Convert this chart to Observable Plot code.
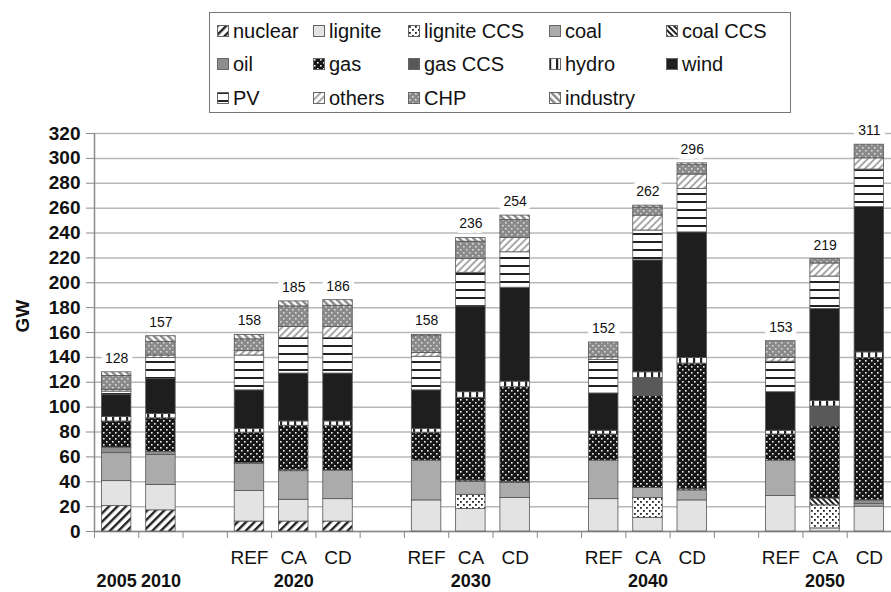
<!DOCTYPE html>
<html>
<head>
<meta charset="utf-8">
<script src="https://cdn.jsdelivr.net/npm/d3@7"></script>
<script src="https://cdn.jsdelivr.net/npm/@observablehq/plot@0.6"></script>
<style>
  body { margin: 0; background: #fff; font-family: "Liberation Sans", Arial, sans-serif; }
  #wrap { position: relative; width: 891px; height: 592px; overflow: hidden; }
  #legend { position: absolute; left: 209px; top: 12px; width: 582px; height: 101px; border: 1.5px solid #777; box-sizing: border-box; }
  .item { position: absolute; font-size: 20px; line-height: 22px; height: 22px; display: flex; align-items: center; white-space: nowrap; color: #111; }
  .item svg { margin-right: 4px; }
  #chart { position: absolute; left: 0; top: 113px; }
</style>
</head>
<body>
<svg width="0" height="0" style="position:absolute">
  <defs>
    <pattern id="p-nuclear" width="6" height="6" patternUnits="userSpaceOnUse" patternTransform="rotate(45)">
      <rect width="6" height="6" fill="#fff"/><rect width="2.4" height="6" fill="#222"/>
    </pattern>
    <pattern id="p-ligccs" width="6" height="6" patternUnits="userSpaceOnUse">
      <rect width="6" height="6" fill="#fff"/><rect x="1" y="1" width="1.8" height="1.8" fill="#222"/><rect x="4" y="4" width="1.8" height="1.8" fill="#222"/>
    </pattern>
    <pattern id="p-coalccs" width="4" height="4" patternUnits="userSpaceOnUse" patternTransform="rotate(-45)">
      <rect width="4" height="4" fill="#fff"/><rect width="2" height="4" fill="#222"/>
    </pattern>
    <pattern id="p-gas" width="6" height="6" patternUnits="userSpaceOnUse">
      <rect width="6" height="6" fill="#161616"/><rect x="1" y="1" width="1.6" height="1.6" fill="#f0f0f0"/><rect x="4" y="4" width="1.6" height="1.6" fill="#f0f0f0"/>
    </pattern>
    <pattern id="p-hydro" width="7" height="7" patternUnits="userSpaceOnUse">
      <rect width="7" height="7" fill="#fff"/><rect width="2.2" height="7" fill="#222"/>
    </pattern>
    <pattern id="p-pv" width="8" height="8" patternUnits="userSpaceOnUse">
      <rect width="8" height="8" fill="#fff"/><rect width="8" height="2" fill="#222"/>
    </pattern>
    <pattern id="p-others" width="5" height="5" patternUnits="userSpaceOnUse" patternTransform="rotate(45)">
      <rect width="5" height="5" fill="#fff"/><rect width="2" height="5" fill="#a8a8a8"/>
    </pattern>
    <pattern id="p-chp" width="6" height="6" patternUnits="userSpaceOnUse">
      <rect width="6" height="6" fill="#8a8a8a"/><rect x="1" y="1" width="1.6" height="1.6" fill="#dadada"/><rect x="4" y="4" width="1.6" height="1.6" fill="#dadada"/>
    </pattern>
    <pattern id="p-industry" width="5" height="5" patternUnits="userSpaceOnUse" patternTransform="rotate(-45)">
      <rect width="5" height="5" fill="#fff"/><rect width="2.4" height="5" fill="#888"/>
    </pattern>
  </defs>
</svg>
<div id="wrap">
  <div id="legend"></div>
  <div id="chart"></div>
</div>
<script>
// ---- data ----
const series = ["nuclear", "lignite", "lignite CCS", "coal", "coal CCS", "oil", "gas", "gas CCS", "hydro", "wind", "PV", "others", "CHP", "industry"];
const scenarios = ["2005", "2010", "2020 REF", "2020 CA", "2020 CD", "2030 REF", "2030 CA", "2030 CD", "2040 REF", "2040 CA", "2040 CD", "2050 REF", "2050 CA", "2050 CD"];
const slotIndex = [0, 1, 3, 4, 5, 7, 8, 9, 11, 12, 13, 15, 16, 17];
const scenarioLabels = ["", "", "REF", "CA", "CD", "REF", "CA", "CD", "REF", "CA", "CD", "REF", "CA", "CD"];
const groupLabels = ["2005", "2010", "2020", "2030", "2040", "2050"];
const groupSlot = [0, 1, 4, 8, 12, 16];
const totals = [128, 157, 158, 185, 186, 158, 236, 254, 152, 262, 296, 153, 219, 311];
const yTicks = [0, 20, 40, 60, 80, 100, 120, 140, 160, 180, 200, 220, 240, 260, 280, 300, 320];

const nuclear    = [20.5, 17, 8, 8, 8, 0, 0, 0, 0, 0, 0, 0, 0, 0];
const lignite    = [20, 20.5, 24.5, 17.5, 18, 25, 18, 27, 26, 11, 25, 28.5, 2.5, 20];
const ligniteCCS = [0, 0, 0, 0, 0, 0, 11.5, 0, 0, 16, 0, 0, 18.5, 0];
const coal       = [22.5, 24, 22, 23, 23, 32, 10.5, 12, 31, 8, 8, 28.5, 0, 2];
const coalCCS    = [0, 0, 0, 1, 0, 0, 1, 1, 0, 0, 1, 0, 5.5, 0];
const oil        = [4.5, 2.5, 0.5, 0, 0, 0, 0, 0, 0, 0, 0, 0, 0, 3];
const gas        = [21, 27, 24.5, 35.5, 36, 22.5, 66.5, 76, 21, 74, 101, 21, 58, 114.5];
const gasCCS     = [0, 0, 0, 0, 0, 0, 0, 0, 0, 14.5, 0, 0, 16, 0];
const hydro      = [3.5, 3.5, 3, 3.5, 3.5, 3, 4.5, 4.5, 3, 4.5, 4.5, 3, 4.5, 4.5];
const wind       = [18, 28, 31, 38.5, 38.5, 31, 69, 75.5, 30, 90, 101, 31, 74, 117];
const pv         = [2.5, 17, 28, 28.5, 28.5, 27, 27, 28.5, 27, 24, 35, 24.5, 26, 30];
const others     = [1.5, 2, 3.5, 9, 9, 3, 11, 11.5, 2, 12, 11.5, 3, 10.5, 9];
const chp        = [11, 11, 9.5, 16.5, 17, 13.5, 14, 14.5, 12, 6.5, 7.5, 13.5, 3.5, 11];
const industry   = [3, 4.5, 3.5, 4, 4.5, 1, 3, 3.5, 0, 1.5, 1.5, 0, 0, 0];

// ---- styles ----
const fills = ["url(#p-nuclear)", "#e3e3e3", "url(#p-ligccs)", "#ababab", "url(#p-coalccs)", "#8e8e8e",
  "url(#p-gas)", "#595959", "url(#p-hydro)", "#1e1e1e", "url(#p-pv)", "url(#p-others)", "url(#p-chp)", "url(#p-industry)"];

const seriesValues = [nuclear, lignite, ligniteCCS, coal, coalCCS, oil, gas, gasCCS, hydro, wind, pv, others, chp, industry];
const rows = scenarios.flatMap((sc, i) =>
  series.map((s, k) => ({scenario: sc, slot: slotIndex[i], series: s, value: seriesValues[k][i]}))
).filter(d => d.value > 0);

const font = "'Liberation Sans', Arial, sans-serif";

const chart = Plot.plot({
  width: 891,
  height: 479,
  marginLeft: 94,
  marginRight: 0,
  marginTop: 20,
  marginBottom: 61,
  x: {domain: [0, 18], axis: null},
  y: {domain: [0, 320], axis: null},
  color: {type: "ordinal", domain: series, range: fills},
  style: {fontFamily: font, background: "white", overflow: "visible", color: "#111"},
  marks: [
    Plot.gridY(yTicks, {stroke: "#b8b8b8", strokeOpacity: 1, strokeWidth: 1.5}),
    Plot.ruleX([0], {stroke: "#8a8a8a", strokeWidth: 1.5}),
    Plot.axisY({ticks: yTicks, tickSize: 8, tickPadding: 6, fontSize: 19, fontWeight: "bold", stroke: "#8a8a8a", fill: "#111", label: null}),
    Plot.axisX({ticks: d3.range(0, 19), tickFormat: () => "", tickSize: 7, stroke: "#8a8a8a", label: null}),
    Plot.ruleY([0], {stroke: "#8a8a8a", strokeWidth: 1.5}),
    Plot.rectY(rows, Plot.stackY({
      x1: "slot", x2: d => d.slot + 1, y: "value", fill: "series", order: series,
      insetLeft: 7.4, insetRight: 7.4, stroke: "#555", strokeWidth: 0.8
    })),
    Plot.text(scenarios, {
      x: (d, i) => slotIndex[i] + 0.5, y: (d, i) => totals[i], text: (d, i) => String(totals[i]),
      dy: -14, fontSize: 14, fill: "#111", stroke: "white", strokeWidth: 10
    }),
    Plot.text(scenarioLabels, {x: (d, i) => slotIndex[i] + 0.5, y: 0, text: d => d, dy: 26, fontSize: 19, fill: "#111"}),
    Plot.text(groupLabels, {x: (d, i) => groupSlot[i] + 0.5, y: 0, text: d => d, dy: 50, fontSize: 18, fontWeight: "bold", fill: "#111"}),
    Plot.text(["GW"], {frameAnchor: "left", dx: -72, rotate: -90, text: d => d, fontSize: 19, fontWeight: "bold", fill: "#111"})
  ]
});
document.getElementById("chart").appendChild(chart);

// ---- legend ----
const legendCols = [7, 103, 198, 339, 456];
const legendRows = [7, 40, 74];
const legendPos = [[0,0],[0,1],[0,2],[0,3],[0,4],[1,0],[1,1],[1,2],[1,3],[1,4],[2,0],[2,1],[2,2],[2,3]];
const legend = document.getElementById("legend");
series.forEach((s, k) => {
  const [r, c] = legendPos[k];
  const item = document.createElement("div");
  item.className = "item";
  item.style.left = legendCols[c] + "px";
  item.style.top = legendRows[r] + "px";
  item.innerHTML = `<svg width="12" height="12"><rect x="0.5" y="0.5" width="11" height="11" fill="${fills[k]}" stroke="#666" stroke-width="1"/></svg><span>${s}</span>`;
  legend.appendChild(item);
});
</script>
</body>
</html>
